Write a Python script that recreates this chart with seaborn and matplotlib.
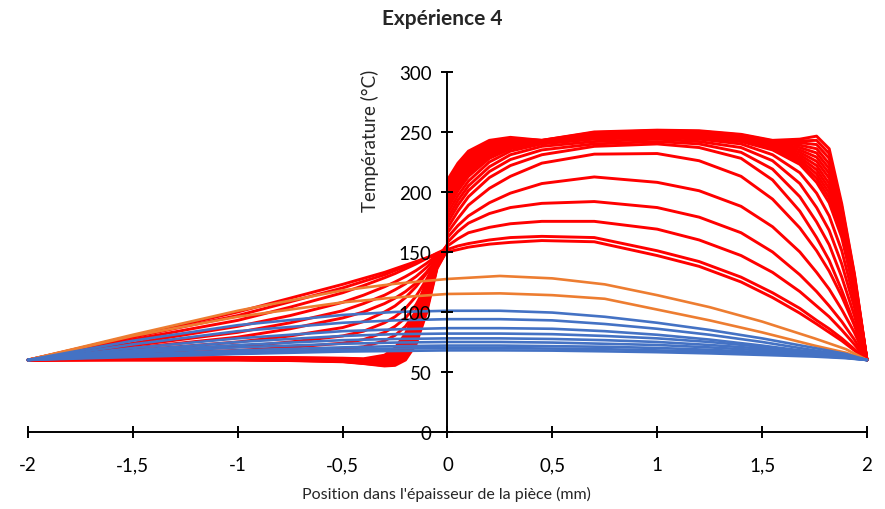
import pandas as pd
import matplotlib
matplotlib.use("Agg")
import matplotlib.pyplot as plt
import seaborn as sns

# position grids (mm) ; the interface x=0 appears twice on the red curves (0- / 0+)
X_SMOOTH = [-2, -1.5, -1, -0.5, -0.25, 0, 0.25, 0.5, 0.75, 1, 1.25, 1.5, 1.75, 1.9, 2]
X_LEFT = [-2, -1.5, -1, -0.75, -0.5, -0.4, -0.3, -0.25, -0.2, -0.15, -0.1, -0.05, 0]
X_RIGHT = [0, 0.05, 0.1, 0.2, 0.3, 0.45, 0.7, 1, 1.2, 1.4, 1.55, 1.68, 1.76, 1.82, 1.88, 1.94, 2]

# blue profiles (on X_SMOOTH)
blue_curves = [
    [60, 76, 89, 97.5, 100, 101, 101, 99.5, 96, 91, 85, 78, 70, 65, 60],
    [60, 73, 84, 91, 93, 94, 94, 93, 90, 86, 81, 75, 68, 64, 60],
    [60, 70, 78, 84, 85.5, 86.5, 86.5, 86, 84, 81, 77, 72, 66.5, 63, 60],
    [60, 68, 75, 80, 81.5, 82, 82, 81.5, 80, 78, 75, 71, 66, 63, 60],
    [60, 67, 72.5, 76.5, 77.5, 78, 78, 77.5, 76.5, 75, 72.5, 69.5, 65.5, 62.5, 60],
    [60, 66, 70.5, 73.5, 74.5, 75, 75, 74.5, 73.5, 72.5, 70.5, 68, 65, 62.5, 60],
    [60, 64.5, 68, 70.5, 71.5, 72, 72, 71.5, 71, 70, 68.5, 66.5, 64, 62, 60],
    [60, 63.5, 66.5, 68.5, 69.5, 70, 70, 69.5, 69, 68, 67, 65.5, 63.5, 61.8, 60],
    [60, 62.5, 65, 67, 67.5, 68, 68, 67.8, 67.2, 66.5, 65.5, 64.2, 62.8, 61.5, 60],
]

# orange profiles (on X_SMOOTH)
orange_curves = [
    [60, 81, 101, 118, 123.5, 127.5, 130, 128, 123, 114, 104, 92, 78, 69, 60],
    [60, 80, 96, 108, 112, 115, 115.5, 114, 111, 102, 93, 83, 72, 66, 60],
]

# red profiles: left part on X_LEFT, right part on X_RIGHT
red_left = [
    [60, 80, 100, 111.5, 123, 128, 133, 136, 139, 142, 145, 147.5, 150],
    [60, 79, 97, 108.5, 120, 125.5, 131, 134.5, 138, 141.5, 145, 148.5, 152],
    [60, 77, 93, 104, 116, 122, 128.5, 132, 136, 140, 144.5, 149, 153],
    [60, 74, 88, 97, 108, 114, 121, 125, 129.5, 134.5, 140.5, 147, 154],
    [60, 72, 83, 91, 101, 107, 114, 118.5, 123.5, 129.5, 137, 146, 155],
    [60, 70, 79, 86, 95, 100, 107, 111.5, 117, 124, 133, 144, 156],
    [60, 68, 75, 80, 87, 92, 100, 105, 112, 121, 132, 144, 156],
    [60, 66, 71, 75, 80, 84, 91, 96, 103, 113, 127, 142, 156],
    [60, 64.5, 68, 70.5, 74, 77, 83, 88, 95, 106, 122, 140, 155],
    [60, 63, 65.5, 67, 69, 71, 76, 80.5, 88, 100, 117, 138, 155],
    [60, 61.5, 62, 62, 61.5, 61, 64, 70, 82, 102, 126, 145, 153],
    [60, 61.4, 61.8, 61.8, 61.2, 60.6, 63, 69, 80, 99, 124, 144, 153],
    [60, 61.2, 61.6, 61.5, 61, 60.2, 62, 67.5, 78, 97, 121, 143, 153],
    [60, 61, 61.4, 61.3, 60.7, 59.8, 61, 66, 76, 94, 118, 142, 153],
    [60, 60.9, 61.2, 61, 60.4, 59.4, 60, 64.5, 74, 91.5, 116, 141.5, 152.5],
    [60, 60.8, 61, 60.8, 60.1, 59, 59, 63, 72, 89, 113, 141, 152.5],
    [60, 60.6, 60.8, 60.5, 59.8, 58.6, 58, 61.5, 70, 86, 110, 140, 152.5],
    [60, 60.5, 60.6, 60.3, 59.5, 58.2, 57, 60, 68, 84, 108, 139, 152],
    [60, 60.4, 60.4, 60, 59.2, 57.8, 56.5, 58.5, 66, 81, 105, 138.5, 152],
    [60, 60.2, 60.2, 59.8, 59, 57.5, 56, 57.5, 64, 78, 103, 137.5, 152],
    [60, 60.1, 60.1, 59.7, 58.8, 57.2, 55.5, 56.5, 62, 75.5, 101, 137, 152],
    [60, 60, 60, 59.5, 58.5, 57, 55, 55.5, 60, 73, 99, 136, 152],
]
red_right = [
    [150, 152, 154, 156.5, 158, 159.5, 158.5, 147, 138, 125, 112, 99, 90, 83, 76, 68, 60],
    [152, 155, 157, 160, 162, 163, 162, 151, 142, 129, 116, 103, 93, 86, 78, 69, 60],
    [155, 161, 166, 170.5, 173.5, 175.5, 175.5, 169, 160, 147, 133, 117, 105, 96, 85, 73, 60],
    [158, 167, 174, 182, 187, 190.5, 192, 187, 179, 166, 150, 131, 117, 105, 92, 77, 60],
    [162, 172, 180, 191, 199, 207, 212.5, 208, 201, 188, 171, 150, 133, 119, 102, 83, 60],
    [166, 178, 189, 203, 213, 224, 231.5, 232, 226, 213, 194, 170, 151, 134, 113, 89, 60],
    [170, 184, 196, 212, 222, 231, 238, 240, 237, 228, 210, 184, 162, 143, 118, 90, 60],
    [174, 189, 201, 217, 227, 235, 240, 242, 240, 233, 219, 196, 175, 156, 129, 97, 60],
    [178, 193, 205, 221, 231, 238, 242, 244, 242, 237, 226, 207, 187, 168, 140, 104, 60],
    [182, 197, 209, 225, 234, 240, 244, 245.5, 244, 240, 231, 216, 199, 180, 151, 110, 60],
    [186, 201, 213, 228, 236, 241, 245, 246.5, 245.5, 242, 235, 223, 208, 191, 162, 117, 60],
    [188, 203, 215, 229.5, 237, 241.2, 245.5, 247, 246, 242.5, 236, 225, 211.5, 195, 164.5, 118.5, 60],
    [190.5, 205, 217, 231, 238, 241.4, 246, 247.5, 246.5, 243, 236.5, 227, 215, 199, 167, 120, 60],
    [192.5, 207.5, 218.5, 232, 238.5, 241.6, 246.5, 248, 247, 243.5, 237.5, 229, 218.5, 203, 169.5, 121, 60],
    [195, 209, 220.5, 233.5, 239.5, 241.8, 247, 248.5, 247.5, 244, 238, 231, 222, 207, 172, 122.5, 60],
    [197, 211.5, 222.5, 235, 240.5, 242, 247.5, 249, 248, 244.5, 239, 233, 225.5, 211.5, 174.5, 124, 60],
    [199, 213.5, 224.5, 236, 241, 242.2, 247.5, 249.5, 248.5, 245.5, 240, 235, 229, 215.5, 177, 125.5, 60],
    [201.5, 215.5, 226.5, 237.5, 242, 242.4, 248, 250, 249, 246, 240.5, 237, 232.5, 219.5, 180, 127, 60],
    [203.5, 217.5, 228.5, 239, 243, 242.6, 248.5, 250.5, 249.5, 246.5, 241.5, 239, 236, 223.5, 182.5, 128, 60],
    [205.5, 220, 230, 240, 244, 242.8, 249, 251, 250, 247, 242, 241, 239.5, 228, 185, 129.5, 60],
    [208, 222, 232, 241.5, 244.5, 243, 249.5, 251, 250.5, 247.5, 242.5, 242.5, 243, 232, 187.5, 131, 60],
    [210, 224, 234, 243, 245.5, 243, 250, 251.5, 251, 248, 243, 244, 246.5, 236, 190, 132, 60],
]

# long table for seaborn
rows = []
for i, ys in enumerate(red_left):
    for x, y in zip(X_LEFT + X_RIGHT, ys + red_right[i]):
        rows.append(("red", f"r{i}", x, y))
for i, ys in enumerate(orange_curves):
    for x, y in zip(X_SMOOTH, ys):
        rows.append(("orange", f"o{i}", x, y))
for i, ys in enumerate(blue_curves):
    for x, y in zip(X_SMOOTH, ys):
        rows.append(("blue", f"b{i}", x, y))
df = pd.DataFrame(rows, columns=["group", "curve", "pos", "temp"])

sns.set_style("white")
plt.rcParams['font.family'] = ['Lato', 'DejaVu Sans']

fig = plt.figure(figsize=(8.85, 5.1), dpi=100)
ax = fig.add_axes([0.0316, 0.151, 0.948, 0.706])

colors = {"red": "#FF0000", "orange": "#ED7D31", "blue": "#4472C4"}
widths = {"red": 2.1, "orange": 1.9, "blue": 1.9}
for g in ["red", "orange", "blue"]:
    sns.lineplot(data=df[df["group"] == g], x="pos", y="temp", units="curve",
                 estimator=None, sort=False, color=colors[g], linewidth=widths[g], ax=ax)
for line in ax.lines:
    line.set_clip_on(False)
    line.set_solid_joinstyle("round")

ax.set_xlim(-2, 2)
ax.set_ylim(0, 300)
ax.set_axisbelow(False)

# excel style axes crossing at the origin
for s in ["top", "right"]:
    ax.spines[s].set_visible(False)
ax.spines["left"].set_position(("data", 0))
ax.spines["bottom"].set_position(("data", 0))
for s in ["left", "bottom"]:
    ax.spines[s].set_linewidth(1.4)
    ax.spines[s].set_color("black")
    ax.spines[s].set_zorder(3)

xt = [-2, -1.5, -1, -0.5, 0, 0.5, 1, 1.5, 2]
ax.set_xticks(xt)
ax.set_xticklabels([f"{v:g}".replace(".", ",") for v in xt])
ax.set_yticks(range(0, 301, 50))
ax.tick_params(axis="both", direction="inout", length=9, width=1.4, color="black",
               labelsize=13.5, labelcolor="black", bottom=True, left=True)
ax.tick_params(axis="x", pad=13)
ax.tick_params(axis="y", pad=7)

ax.set_xlabel("")
ax.set_ylabel("")
fig.text(0.505, 0.03, "Position dans l'épaisseur de la pièce (mm)", ha="center", va="center", fontsize=11.5)
ax.text(-0.37, 243, "Température (°C)", rotation=90, ha="center", va="center", fontsize=13.5)
fig.text(0.5, 0.963, "Expérience 4", ha="center", va="center", fontsize=15, fontweight="bold")

fig.savefig("out.png", dpi=100)
